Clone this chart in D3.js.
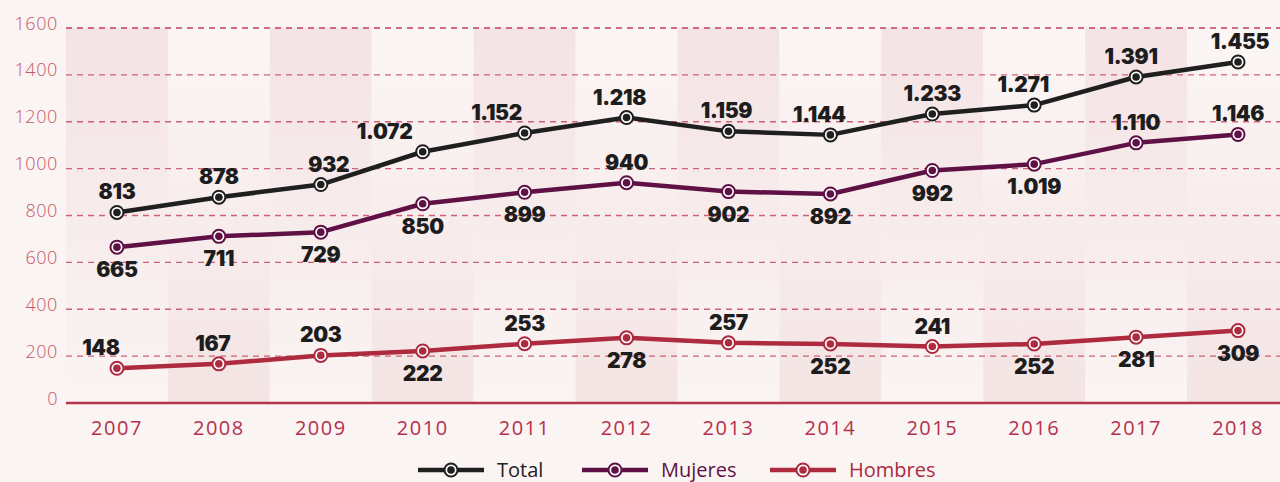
<!DOCTYPE html>
<html>
<head>
<meta charset="utf-8">
<script src="https://cdn.jsdelivr.net/npm/d3@7"></script>
<style>
  html, body { margin: 0; padding: 0; background: #faf4f3; }
  svg { display: block; }
</style>
</head>
<body>
<svg id="chart"></svg>
<script>
// Data
const years = ["2007", "2008", "2009", "2010", "2011", "2012", "2013", "2014", "2015", "2016", "2017", "2018"];
const total = [813, 878, 932, 1072, 1152, 1218, 1159, 1144, 1233, 1271, 1391, 1455];
const mujeres = [665, 711, 729, 850, 899, 940, 902, 892, 992, 1019, 1110, 1146];
const hombres = [148, 167, 203, 222, 253, 278, 257, 252, 241, 252, 281, 309];
const yTicks = [0, 200, 400, 600, 800, 1000, 1200, 1400, 1600];

// Label placement: "a" above the point, "b" below
const totalPlace = ["a", "a", "a", "a", "a", "a", "a", "a", "a", "a", "a", "a"];
const mujeresPlace = ["b", "b", "b", "b", "b", "a", "b", "b", "b", "b", "a", "a"];
const hombresPlace = ["a", "a", "a", "b", "a", "b", "a", "b", "a", "b", "b", "b"];
// small horizontal nudges for a few labels
const totalDx = [0, 0, 8, -38, -28, -7, -2, -11, 0, -11, -5, 2];
const mujeresDx = [0, 0, 0, 0, 0, 0, 0, 0, 0, 0, 0, 0];
const hombresDx = [-16, -6, 0, 0, 0, 0, 0, 0, 0, 0, 0, 0];

const series = [
    { name: "Total", values: total, place: totalPlace, dx: totalDx, color: "#1f1f1f", text: "#222222" },
    { name: "Mujeres", values: mujeres, place: mujeresPlace, dx: mujeresDx, color: "#5f1146", text: "#5f1146" },
    { name: "Hombres", values: hombres, place: hombresPlace, dx: hombresDx, color: "#ad2a3f", text: "#ad2a3f" }
];

const width = 1280;
const height = 482;

const svg = d3.select("#chart")
    .attr("width", width)
    .attr("height", height);

svg.append("rect")
    .attr("width", width)
    .attr("height", height)
    .attr("fill", "#faf4f3");

const xScale = d3.scaleBand().domain(years).range([66, 1289]).padding(0);
const yScale = d3.scaleLinear().domain([0, 1600]).range([403, 28]);

// Column gradients (alternating direction)
const defs = svg.append("defs");
const gOdd = defs.append("linearGradient").attr("id", "colOdd")
    .attr("x1", 0).attr("y1", 0).attr("x2", 0).attr("y2", 1);
gOdd.append("stop").attr("offset", "0%").attr("stop-color", "#f4e3e4");
gOdd.append("stop").attr("offset", "100%").attr("stop-color", "#faf4f3");
const gEven = defs.append("linearGradient").attr("id", "colEven")
    .attr("x1", 0).attr("y1", 0).attr("x2", 0).attr("y2", 1);
gEven.append("stop").attr("offset", "0%").attr("stop-color", "#fbf6f5");
gEven.append("stop").attr("offset", "100%").attr("stop-color", "#f4e4e4");

svg.selectAll(".col")
    .data(years)
    .enter()
    .append("rect")
    .attr("class", "col")
    .attr("x", d => xScale(d))
    .attr("y", yScale(1600))
    .attr("width", xScale.bandwidth())
    .attr("height", yScale(0) - yScale(1600))
    .attr("fill", (d, i) => i % 2 === 0 ? "url(#colOdd)" : "url(#colEven)");

// Grid lines
svg.selectAll(".grid")
    .data(yTicks.filter(d => d > 0))
    .enter()
    .append("line")
    .attr("class", "grid")
    .attr("x1", 66)
    .attr("x2", width)
    .attr("y1", d => yScale(d))
    .attr("y2", d => yScale(d))
    .attr("stroke", "#c43f5c")
    .attr("stroke-width", 1.3)
    .attr("stroke-dasharray", "6,5")
    .attr("opacity", d => d === 1600 ? 1 : 0.8);

// Baseline
svg.append("line")
    .attr("x1", 66)
    .attr("x2", width)
    .attr("y1", yScale(0))
    .attr("y2", yScale(0))
    .attr("stroke", "#b3344d")
    .attr("stroke-width", 2.5);

// Y axis labels
const yAxis = d3.axisLeft(yScale).tickValues(yTicks).tickSize(0).tickPadding(0).tickFormat(d3.format("d"));
const yG = svg.append("g")
    .attr("transform", "translate(58,0)")
    .call(yAxis);
yG.select(".domain").remove();
yG.selectAll("text")
    .attr("dy", "0")
    .attr("y", 1)
    .attr("fill", "#c9566c")
    .style("font-family", "'Open Sans', sans-serif")
    .style("font-weight", 300)
    .style("font-size", "18px")
    .style("letter-spacing", "0.6px");

// X axis labels
const xAxis = d3.axisBottom(xScale).tickSize(0).tickPadding(0);
const xG = svg.append("g")
    .attr("transform", "translate(0,414)")
    .call(xAxis);
xG.select(".domain").remove();
xG.selectAll("text")
    .attr("dy", "0")
    .attr("y", 21)
    .attr("fill", "#b5304c")
    .style("font-family", "'Open Sans', sans-serif")
    .style("font-weight", 400)
    .style("font-size", "20px")
    .style("letter-spacing", "1.5px");

const line = d3.line()
    .x((d, i) => xScale(years[i]) + xScale.bandwidth() / 2)
    .y(d => yScale(d));

function drawMarker(g, cx, cy, color) {
    g.append("circle")
        .attr("cx", cx).attr("cy", cy).attr("r", 6.5)
        .attr("fill", "#ffffff")
        .attr("stroke", color)
        .attr("stroke-width", 2);
    g.append("circle")
        .attr("cx", cx).attr("cy", cy).attr("r", 3.8)
        .attr("fill", color);
}

series.forEach(s => {
    const g = svg.append("g");
    g.append("path")
        .datum(s.values)
        .attr("d", line)
        .attr("fill", "none")
        .attr("stroke", s.color)
        .attr("stroke-width", 4.5)
        .attr("stroke-linejoin", "round");

    s.values.forEach((v, i) => {
        drawMarker(g, xScale(years[i]) + xScale.bandwidth() / 2, yScale(v), s.color);
    });

    g.selectAll(".val")
        .data(s.values)
        .enter()
        .append("text")
        .attr("x", (d, i) => xScale(years[i]) + xScale.bandwidth() / 2 + s.dx[i])
        .attr("y", (d, i) => yScale(d) + (s.place[i] === "a" ? -13 : 30))
        .attr("text-anchor", "middle")
        .attr("fill", "#1d1d1d")
        .style("font-family", "Inter, sans-serif")
        .style("font-weight", 900)
        .style("font-size", "21px")
        .style("letter-spacing", "-0.3px")
        .text(d => d3.format(",")(d).replace(",", "."));
});

// Legend
const legendItems = [
    { s: series[0], x: 418 },
    { s: series[1], x: 582 },
    { s: series[2], x: 770 }
];
const legendY = 470;
const legend = svg.append("g");
legendItems.forEach(item => {
    legend.append("line")
        .attr("x1", item.x).attr("x2", item.x + 66)
        .attr("y1", legendY).attr("y2", legendY)
        .attr("stroke", item.s.color)
        .attr("stroke-width", 4.5);
    drawMarker(legend, item.x + 33, legendY, item.s.color);
    legend.append("text")
        .attr("x", item.x + 79)
        .attr("y", legendY + 7)
        .attr("fill", item.s.text)
        .style("font-family", "'Open Sans', sans-serif")
        .style("font-weight", 400)
        .style("font-size", "20px")
        .text(item.s.name);
});
</script>
</body>
</html>
